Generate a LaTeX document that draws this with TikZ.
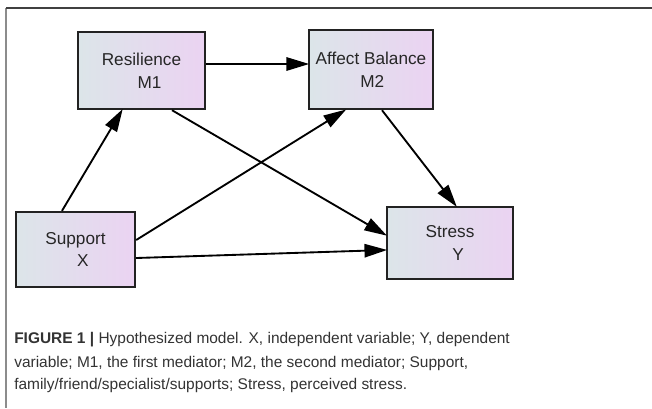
\documentclass[tikz,border=0pt]{standalone}
\usepackage{fontspec}
\setmainfont{Liberation Sans}
\usetikzlibrary{arrows.meta,calc}
\definecolor{boxL}{HTML}{DCE5E9}
\definecolor{boxR}{HTML}{EBD3F2}
\definecolor{edge}{HTML}{222222}
\definecolor{captext}{HTML}{333333}
\tikzset{
  var/.style={draw=edge, line width=1.8pt, left color=boxL, right color=boxR,
    minimum width=#1, font=\fontsize{12.9}{17}\selectfont, align=center,
    inner sep=0pt, text=black!85},
  path/.style={draw=black, line width=1.4pt,
    -{Triangle[length=17pt,width=10pt]}, shorten >=-1pt},
  capline/.style={anchor=base west, inner sep=0pt, text=captext,
    font=\fontsize{11.6}{14}\selectfont}
}
\begin{document}
\begin{tikzpicture}[x=0.75pt,y=-0.75pt]
\useasboundingbox (0,0) rectangle (652,408);
% outer frame
\draw[draw=black!45, line width=1pt] (6,8) -- (6,408);
\draw[draw=black!75, line width=1.3pt] (6,8) -- (652,8);

% variables
\node[var=127*0.75pt, minimum height=77*0.75pt] (m1) at (141.5,70.5)
  {Resilience\\\hspace*{12pt}M1};
\node[var=124*0.75pt, minimum height=79*0.75pt] (m2) at (371,69.5)
  {Affect Balance\\\hspace*{2pt}M2};
\node[var=119*0.75pt, minimum height=75*0.75pt] (x) at (75.5,249.5)
  {Support\\\hspace*{11pt}X};
\node[var=126*0.75pt, minimum height=72*0.75pt] (y) at (450,243)
  {Stress\\\hspace*{12pt}Y};

% attachment points on the box sides
\coordinate (x1) at ($(x.north)+(-13.5,0)$);
\coordinate (x2) at ($(x.east)+(0,-9.5)$);
\coordinate (x3) at ($(x.east)+(0,8.5)$);
\coordinate (m1a) at ($(m1.south)+(-19.5,0)$);
\coordinate (m1b) at ($(m1.east)+(0,-6.5)$);
\coordinate (m1c) at ($(m1.south)+(30.5,0)$);
\coordinate (m2a) at ($(m2.west)+(0,-5.5)$);
\coordinate (m2b) at ($(m2.south)+(-26,0)$);
\coordinate (m2c) at ($(m2.south)+(11,0)$);
\coordinate (ya) at ($(y.west)+(0,-8)$);
\coordinate (yb) at ($(y.west)+(0,7)$);
\coordinate (yc) at ($(y.north)+(6,0)$);

% paths of the model
\draw[path] (x1) -- (m1a);
\draw[path] (m1b) -- (m2a);
\draw[path] (m1c) -- (ya);
\draw[path] (x2) -- (m2b);
\draw[path] (x3) -- (yb);
\draw[path] (m2c) -- (yc);

% caption
\node[capline] (cap1) at (14,343)
  {\textbf{FIGURE 1 |} Hypothesized model. X, independent variable; Y, dependent};
\node[capline] (cap2) at (14,367)
  {variable; M1, the first mediator; M2, the second mediator; Support,};
\node[capline] (cap3) at (14,389)
  {family/friend/specialist/supports; Stress, perceived stress.};
\end{tikzpicture}
\end{document}
